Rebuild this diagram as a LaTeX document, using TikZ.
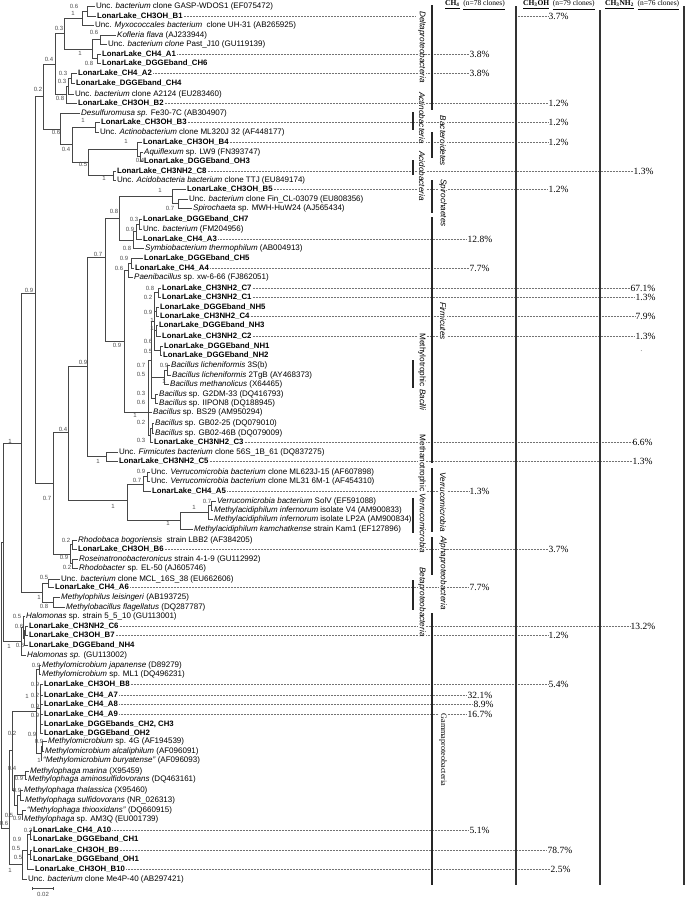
\documentclass[tikz,border=0pt]{standalone}
\usepackage{fontspec}
\setmainfont{Liberation Serif}
\setsansfont{Liberation Sans}
\newcommand\lfont{\fontsize{8}{9}\selectfont\sffamily}
\newcommand\bfont{\fontsize{7.8}{9}\selectfont\sffamily\bfseries}
\tikzset{
 leaf/.style={anchor=west, inner xsep=1pt, inner ysep=0pt, font=\lfont},
 bleaf/.style={leaf, font=\bfont},
 tree/.style={line width=0.75pt, draw=black!72},
 sup/.style={font=\fontsize{6}{6}\selectfont\sffamily, text=black!70, inner sep=0pt},
 pctn/.style={anchor=west, inner sep=0.5pt, font=\fontsize{9.5}{10}\selectfont},
 dotl/.style={draw=black!55, line width=0.4pt, dash pattern=on 0.5pt off 1pt},
 grp/.style={rotate=-90, fill=white, inner xsep=2pt, inner ysep=0.5pt, font=\fontsize{8.2}{9}\selectfont\sffamily},
 gbar/.style={line width=1.2pt, draw=black!85},
 col/.style={line width=1.1pt, draw=black!80},
 hdr/.style={anchor=west, inner sep=0pt, font=\fontsize{7.5}{8}\selectfont},
}
\newcommand\lf[4]{\node[leaf] (#1) at (#2,#3) {#4};}
\newcommand\LL[4]{\node[bleaf] (#1) at (#2,#3) {LonarLake\_#4};}
\newcommand\sv[3]{\node[sup] at (#1,#2) {#3};}
\newcommand\cl[3]{\coordinate (#1) at (#2,#3);}
\newcommand\br[2]{\foreach \c in {#2} {\draw[tree] (#1) |- (\c);}}
\newcommand\pct[4]{\node[pctn] (p#1) at (#2,#3) {#4}; \draw[dotl] (#1.east) -- (#1.east -| p#1.west);}
\begin{document}
\begin{tikzpicture}[x=1pt,y=-1pt]
\useasboundingbox (0,0) rectangle (685,897);
% ---------------- leaves
\lf{L1}{95}{6}{Unc. \textit{bacterium} clone GASP-WDOS1 (EF075472)}
\LL{L2}{96}{16}{CH3OH\_B1}
\lf{L3}{94}{25}{Unc. \textit{Myxococcales bacterium}\ \ clone UH-31 (AB265925)}
\lf{L4}{116}{35}{\textit{Kofleria flava} (AJ233944)}
\lf{L5}{107}{44}{Unc. \textit{bacterium clone} Past\_J10 (GU119139)}
\LL{L6}{101}{54}{CH4\_A1}
\LL{L7}{101}{63}{DGGEband\_CH6}
\LL{L8}{77}{73}{CH4\_A2}
\LL{L9}{75}{83}{DGGEband\_CH4}
\lf{L10}{74}{94}{Unc. \textit{bacterium} clone A2124 (EU283460)}
\LL{L11}{77}{103}{CH3OH\_B2}
\lf{L12}{80}{113}{\textit{Desulfuromusa sp.} Fe30-7C (AB304907)}
\LL{L13}{100}{122}{CH3OH\_B3}
\lf{L14}{99}{132}{Unc. \textit{Actinobacterium} clone ML320J 32 (AF448177)}
\LL{L15}{142}{142}{CH3OH\_B4}
\lf{L16}{143}{152}{\textit{Aquiflexum} sp. LW9 (FN393747)}
\LL{L17}{143}{161}{DGGEband\_OH3}
\LL{L18}{116}{171}{CH3NH2\_C8}
\lf{L19}{116}{180}{Unc. \textit{Acidobacteria bacterium} clone TTJ (EU849174)}
\LL{L20}{186}{189}{CH3OH\_B5}
\lf{L21}{188}{199}{Unc. \textit{bacterium} clone Fin\_CL-03079 (EU808356)}
\lf{L22}{192}{208}{\textit{Spirochaeta} sp. MWH-HuW24 (AJ565434)}
\LL{L23}{142}{219}{DGGEband\_CH7}
\lf{L24}{142}{229}{Unc. \textit{bacterium} (FM204956)}
\LL{L25}{142}{239}{CH4\_A3}
\lf{L26}{144}{248}{\textit{Symbiobacterium thermophilum} (AB004913)}
\LL{L27}{143}{258}{DGGEband\_CH5}
\LL{L28}{134}{268}{CH4\_A4}
\lf{L29}{133}{277}{\textit{Paenibacillus} sp. xw-6-66 (FJ862051)}
\LL{L30}{161}{288}{CH3NH2\_C7}
\LL{L31}{161}{297}{CH3NH2\_C1}
\LL{L32}{159}{307}{DGGEband\_NH5}
\LL{L33}{159}{316}{CH3NH2\_C4}
\LL{L34}{158}{325}{DGGEband\_NH3}
\LL{L35}{161}{336}{CH3NH2\_C2}
\LL{L36}{163}{346}{DGGEband\_NH1}
\LL{L37}{162}{355}{DGGEband\_NH2}
\lf{L38}{170}{365}{\textit{Bacillus licheniformis} 3S(b)}
\lf{L39}{171}{375}{\textit{Bacillus licheniformis} 2TgB (AY468373)}
\lf{L40}{169}{384}{\textit{Bacillus methanolicus} (X64465)}
\lf{L41}{158}{394}{\textit{Bacillus} sp. G2DM-33 (DQ416793)}
\lf{L42}{158}{403}{\textit{Bacillus} sp. IIPON8 (DQ188945)}
\lf{L43}{152}{412}{\textit{Bacillus} sp. BS29 (AM950294)}
\lf{L44}{154}{423}{\textit{Bacillus} sp. GB02-25 (DQ079010)}
\lf{L45}{154}{433}{\textit{Bacillus} sp. GB02-46B (DQ079009)}
\LL{L46}{153}{442}{CH3NH2\_C3}
\lf{L47}{118}{452}{Unc. \textit{Firmicutes bacterium} clone 56S\_1B\_61 (DQ837275)}
\LL{L48}{118}{461}{CH3NH2\_C5}
\lf{L49}{150}{472}{Unc. \textit{Verrucomicrobia bacterium} clone ML623J-15 (AF607898)}
\lf{L50}{150}{481}{Unc. \textit{Verrucomicrobia bacterium} clone ML31 6M-1 (AF454310)}
\LL{L51}{151}{491}{CH4\_A5}
\lf{L52}{216}{501}{\textit{Verrucomicrobia bacterium} SolV (EF591088)}
\lf{L53}{213}{510}{\textit{Methylacidiphilum infernorum} isolate V4 (AM900833)}
\lf{L54}{213}{519}{\textit{Methylacidiphilum infernorum} isolate LP2A (AM900834)}
\lf{L55}{193}{529}{\textit{Methylacidiphilum kamchatkense} strain Kam1 (EF127896)}
\lf{L56}{77}{540}{\textit{Rhodobaca bogoriensis}\ \ strain LBB2 (AF384205)}
\LL{L57}{77}{549}{CH3OH\_B6}
\lf{L58}{78}{559}{\textit{Roseinatronobacteronicus} strain 4-1-9 (GU112992)}
\lf{L59}{78}{568}{\textit{Rhodobacter} sp. EL-50 (AJ605746)}
\lf{L60}{60}{579}{Unc. \textit{bacterium} clone MCL\_16S\_38 (EU662606)}
\LL{L61}{54}{587}{CH4\_A6}
\lf{L62}{60}{597}{\textit{Methylophilus leisingeri} (AB193725)}
\lf{L63}{65}{607}{\textit{Methylobacillus flagellatus} (DQ287787)}
\lf{L64}{25}{616}{\textit{Halomonas} sp. strain 5\_5\_10 (GU113001)}
\LL{L65}{28}{626}{CH3NH2\_C6}
\LL{L66}{28}{635}{CH3OH\_B7}
\LL{L67}{28}{645}{DGGEband\_NH4}
\lf{L68}{26}{655}{\textit{Halomonas sp.} (GU113002)}
\lf{L69}{41}{665}{\textit{Methylomicrobium japanense} (D89279)}
\lf{L70}{41}{674}{\textit{Methylomicrobium} sp. ML1 (DQ496231)}
\LL{L71}{43}{684}{CH3OH\_B8}
\LL{L72}{43}{695}{CH4\_A7}
\LL{L73}{43}{704}{CH4\_A8}
\LL{L74}{43}{714}{CH4\_A9}
\LL{L75}{43}{724}{DGGEbands\_CH2, CH3}
\LL{L76}{43}{733}{DGGEband\_OH2}
\lf{L77}{47}{741}{\textit{Methylomicrobium} sp. 4G (AF194539)}
\lf{L78}{44}{751}{\textit{Methylomicrobium alcaliphilum} (AF096091)}
\lf{L79}{42}{760}{\textit{“Methylomicrobium buryatense”} (AF096093)}
\lf{L80}{29}{771}{\textit{Methylophaga marina} (X95459)}
\lf{L81}{27}{779}{\textit{Methylophaga aminosulfidovorans} (DQ463161)}
\lf{L82}{23}{790}{\textit{Methylophaga thalassica} (X95460)}
\lf{L83}{24}{800}{\textit{Methylophaga sulfidovorans} (NR\_026313)}
\lf{L84}{26}{810}{\textit{“Methylophaga thiooxidans”} (DQ660915)}
\lf{L85}{23}{819}{\textit{Methylophaga} sp. AM3Q (EU001739)}
\LL{L86}{32}{830}{CH4\_A10}
\LL{L87}{32}{839}{DGGEband\_CH1}
\LL{L88}{32}{850}{CH3OH\_B9}
\LL{L89}{32}{859}{DGGEband\_OH1}
\LL{L90}{34}{869}{CH3OH\_B10}
\lf{L91}{27}{879}{Unc. \textit{bacterium} clone Me4P-40 (AB297421)}
% ---------------- internal nodes
\cl{n1}{87}{11} \cl{n2}{82}{18} \cl{n3}{100}{39.5} \cl{n4}{97}{58.5}
\cl{n5}{92}{49} \cl{n6}{64}{33.5} \cl{n7a}{71}{78} \cl{n7}{68}{86}
\cl{n8}{66}{94.5} \cl{n9}{55}{64} \cl{n11}{95}{127} \cl{n12b}{140}{156.5}
\cl{n12}{137}{149} \cl{n13}{113}{175.5} \cl{n14}{88}{162} \cl{n15}{72}{144.5}
\cl{n16}{60}{129} \cl{n17}{43}{96}
\cl{n18}{178}{203.5} \cl{n19}{172}{196} \cl{n20a}{139}{224} \cl{n20b}{136}{231}
\cl{n20c}{133}{240} \cl{n21}{119}{218} \cl{n22a}{131}{263} \cl{n22}{128}{270}
\cl{b1}{158}{292.5} \cl{b2}{156}{311.5} \cl{b3}{156}{330.5} \cl{b4}{160}{350.5}
\cl{b5}{154}{321.5} \cl{b6}{167}{370} \cl{b7}{164}{377} \cl{b8}{155}{398.5}
\cl{b9}{151}{360} \cl{b10}{152}{428} \cl{b11}{150}{435} \cl{B}{148}{412}
\cl{n23}{124}{341} \cl{n24}{105}{257} \cl{n26}{106}{456} \cl{n25}{87}{366}
\cl{n27a}{147}{476.5} \cl{n27b}{143}{484} \cl{n28a}{211}{505.5} \cl{n28b}{208}{512}
\cl{n28}{180}{520} \cl{n29}{127}{500} \cl{n30}{68}{432}
\cl{n31a}{72}{544.5} \cl{n31b}{72}{563.5} \cl{n31}{70}{554} \cl{n32}{53}{483}
\cl{n33}{35}{293} \cl{n35a}{48}{583} \cl{n35b}{53}{602} \cl{n35}{42}{592}
\cl{n34}{21}{443}
\cl{n36a}{25}{630.5} \cl{n36b}{24}{638} \cl{n36c}{23}{627} \cl{n36}{21}{641}
\cl{g1}{39}{669.5} \cl{g2}{40}{708.5} \cl{g3}{42.5}{746} \cl{g4}{41}{753}
\cl{g5}{36}{711} \cl{mph1}{25}{775} \cl{mph2}{20}{795} \cl{mph3}{22}{814.5}
\cl{mph4}{17}{805} \cl{mph5}{14}{790} \cl{g6}{12}{750}
\cl{c1}{30}{834.5} \cl{c2}{30}{854.5} \cl{c3}{27}{850} \cl{c4}{22}{864}
\cl{G}{9}{828} \cl{R1}{3}{542} \cl{R0}{1}{680}
% ---------------- branches
\br{n1}{L1.west,L2.west} \br{n2}{n1,L3.west} \br{n3}{L4.west,L5.west}
\br{n4}{L6.west,L7.west} \br{n5}{n3,n4} \br{n6}{n2,n5}
\br{n7a}{L8.west,L9.west} \br{n7}{n7a,L10.west} \br{n8}{n7,L11.west} \br{n9}{n6,n8}
\br{n11}{L13.west,L14.west} \br{n12b}{L16.west,L17.west} \br{n12}{L15.west,n12b}
\br{n13}{L18.west,L19.west} \br{n14}{n12,n13} \br{n15}{n11,n14} \br{n16}{L12.west,n15}
\br{n17}{n9,n16}
\br{n18}{L21.west,L22.west} \br{n19}{L20.west,n18} \br{n20a}{L23.west,L24.west}
\br{n20b}{n20a,L25.west} \br{n20c}{n20b,L26.west} \br{n21}{n19,n20c}
\br{n22a}{L27.west,L28.west} \br{n22}{n22a,L29.west}
\br{b1}{L30.west,L31.west} \br{b2}{L32.west,L33.west} \br{b3}{L34.west,L35.west}
\br{b4}{L36.west,L37.west} \br{b5}{b1,b2,b3,b4} \br{b6}{L38.west,L39.west}
\br{b7}{b6,L40.west} \br{b8}{L41.west,L42.west} \br{b9}{b5,b7,b8}
\br{b10}{L44.west,L45.west} \br{b11}{b10,L46.west} \br{B}{b9,L43.west,b11}
\br{n23}{n22,B} \br{n24}{n21,n23} \br{n26}{L47.west,L48.west} \br{n25}{n24,n26}
\br{n27a}{L49.west,L50.west} \br{n27b}{n27a,L51.west} \br{n28a}{L52.west,L53.west}
\br{n28b}{n28a,L54.west} \br{n28}{n28b,L55.west} \br{n29}{n27b,n28} \br{n30}{n25,n29}
\br{n31a}{L56.west,L57.west} \br{n31b}{L58.west,L59.west} \br{n31}{n31a,n31b}
\br{n32}{n30,n31} \br{n33}{n17,n32}
\br{n35a}{L60.west,L61.west} \br{n35b}{L62.west,L63.west} \br{n35}{n35a,n35b}
\br{n34}{n33,n35}
\br{n36a}{L65.west,L66.west} \br{n36b}{n36a,L67.west} \br{n36c}{L64.west,n36b}
\br{n36}{n36c,L68.west}
\br{g1}{L69.west,L70.west} \br{g2}{L71.west,L72.west,L73.west,L74.west,L75.west,L76.west}
\br{g3}{L77.west,L78.west} \br{g4}{g3,L79.west} \br{g5}{g1,g2,g4}
\br{mph1}{L80.west,L81.west} \br{mph2}{L82.west,L83.west} \br{mph3}{L84.west,L85.west}
\br{mph4}{mph2,mph3} \br{mph5}{mph1,mph4} \br{g6}{g5,mph5}
\br{c1}{L86.west,L87.west} \br{c2}{L88.west,L89.west} \br{c3}{c1,c2,L90.west}
\br{c4}{c3,L91.west} \br{G}{g6,c4} \br{R1}{n34,n36} \br{R0}{R1,G}
% ---------------- support values
\sv{74}{6}{0.6} \sv{73}{13}{1} \sv{59}{28}{0.3} \sv{94}{32}{0.6} \sv{80}{53}{1}
\sv{89}{63}{0.8} \sv{49}{59}{0.4} \sv{63}{73}{0.3} \sv{62}{81}{0.3} \sv{60}{98}{0.8}
\sv{38}{89}{0.2} \sv{83}{120}{1} \sv{56}{132}{0.6} \sv{126}{141}{1} \sv{66}{149}{0.4}
\sv{140}{160}{0.4} \sv{83}{164}{0.5} \sv{104}{178}{1} \sv{160}{190}{1} \sv{170}{208}{0.7}
\sv{114}{211}{0.8} \sv{134}{219}{0.3} \sv{130}{229}{0.9} \sv{127}{248}{0.8}
\sv{124}{258}{0.9} \sv{119}{268}{0.6} \sv{98}{254}{0.7} \sv{29}{290}{0.9}
\sv{150}{288}{0.8} \sv{148}{297}{0.2} \sv{148}{312}{0.9} \sv{152}{320}{1} \sv{152}{328}{1}
\sv{148}{341}{0.6} \sv{148}{351}{0.5} \sv{164}{365}{0.9} \sv{141}{365}{0.7}
\sv{141}{374}{0.5} \sv{164}{381}{1} \sv{141}{393}{0.3} \sv{141}{402}{0.6} \sv{135}{415}{1}
\sv{141}{422}{0.2} \sv{141}{440}{0.3} \sv{117}{345}{0.9} \sv{83}{362}{0.9} \sv{63}{429}{0.4}
\sv{98}{461}{1} \sv{10}{441}{1}
\sv{141}{471}{0.9} \sv{137}{480}{0.7} \sv{207}{501}{0.7} \sv{194}{507}{1} \sv{168}{523}{1}
\sv{113}{506}{1} \sv{47}{498}{0.7}
\sv{66}{540}{0.2} \sv{64}{557}{0.9} \sv{67}{567}{0.2}
\sv{44}{577}{0.5} \sv{39}{597}{1} \sv{44}{606}{0.8}
\sv{17}{616}{0.5} \sv{19}{626}{0.6} \sv{20}{645}{0.6} \sv{9}{646}{1}
\sv{36}{665}{0.9} \sv{35}{684}{0.9} \sv{35}{695}{0.2} \sv{35}{706}{0.9} \sv{35}{715}{0.9}
\sv{32}{734}{0.9} \sv{27}{696}{1} \sv{12}{733}{0.2} \sv{39}{741}{0.9} \sv{39}{760}{1}
\sv{12}{768}{0.4} \sv{19}{778}{0.9} \sv{17}{790}{0.9} \sv{9}{815}{0.5} \sv{17}{818}{0.9}
\sv{4}{823}{0.6} \sv{28}{830}{0.2} \sv{17}{839}{0.9} \sv{16}{848}{0.5} \sv{18}{857}{0.5}
\sv{10}{870}{1}
% ---------------- scale bar
\coordinate (sb1) at (32,888); \coordinate (sb2) at (53,888);
\draw[tree,line width=0.6pt] (sb1) -- (sb2);
\draw[tree,line width=0.6pt] ([yshift=-1.5pt]sb1) -- ([yshift=1.5pt]sb1);
\draw[tree,line width=0.6pt] ([yshift=-1.5pt]sb2) -- ([yshift=1.5pt]sb2);
\node[sup] (sbl) at (43,894) {0.02};
% ---------------- percentages and dotted leaders
\node[pctn] (pL2) at (548,16) {3.7\%};
\draw[dotl] (L2.east) -- (415,16); \draw[dotl] (516,16) -- (pL2.west);
\pct{L6}{469}{54}{3.8\%}
\pct{L8}{469}{73}{3.8\%}
\pct{L11}{548}{103}{1.2\%}
\pct{L13}{548}{122}{1.2\%}
\pct{L15}{548}{142}{1.2\%}
\pct{L18}{633}{171}{1.3\%}
\pct{L20}{548}{189}{1.2\%}
\pct{L25}{467}{239}{12.8\%}
\pct{L28}{469}{268}{7.7\%}
\pct{L30}{630}{288}{67.1\%}
\pct{L31}{635}{297}{1.3\%}
\pct{L33}{635}{316}{7.9\%}
\pct{L35}{635}{336}{1.3\%}
\pct{L46}{632}{442}{6.6\%}
\pct{L48}{632}{461}{1.3\%}
\pct{L51}{469}{491}{1.3\%}
\pct{L57}{548}{549}{3.7\%}
\pct{L61}{469}{587}{7.7\%}
\pct{L65}{630}{626}{13.2\%}
\pct{L66}{548}{635}{1.2\%}
\pct{L71}{548}{684}{5.4\%}
\pct{L72}{467}{695}{32.1\%}
\pct{L73}{473}{704}{8.9\%}
\pct{L74}{467}{714}{16.7\%}
\pct{L86}{469}{830}{5.1\%}
\pct{L88}{547}{850}{78.7\%}
\pct{L90}{550}{869}{2.5\%}
\node[pctn,font=\fontsize{6}{6}\selectfont] (dotmark) at (640,351) {.};
% ---------------- group labels
\node[grp] (gDelta) at (422,47) {\textit{Deltaproteobacteria}};
\node[grp] (gActino) at (422,118) {\textit{Actinobacteria}};
\node[grp] (gAcido) at (422,176) {\textit{Acidobacteria}};
\node[grp] (gBact) at (443,141) {\textit{Bacteroidetes}};
\node[grp] (gSpiro) at (443,203) {\textit{Spirochaetes}};
\node[grp] (gFirm) at (443,321) {\textit{Firmicutes}};
\node[grp] (gMB) at (422,372) {Methylotrophic \textit{Bacilli}};
\node[grp] (gMV) at (422,494) {Methanotrophic \textit{Verrucomicrobia}};
\node[grp] (gVerr) at (443,502) {\textit{Verrucomicrobia}};
\node[grp] (gAlpha) at (443,573) {\textit{Alphaproteobacteria}};
\node[grp] (gBeta) at (422,602) {\textit{Betaproteobacteria}};
\node[grp,font=\fontsize{8.2}{9}\selectfont\rmfamily] (gGamma) at (443,750) {Gammaproteobacteria};
% ---------------- group bars
\draw[gbar] (432,5) -- (432,110);
\draw[gbar] (413,112) -- (413,130);
\draw[gbar] (432,132) -- (432,158);
\draw[gbar] (413,160) -- (413,175);
\draw[gbar] (432,180) -- (432,213);
\draw[gbar] (432,217) -- (432,463);
\draw[gbar] (413,360) -- (413,388);
\draw[gbar] (413,498) -- (413,533);
\draw[gbar] (432,468) -- (432,532);
\draw[gbar] (432,537) -- (432,575);
\draw[gbar] (413,580) -- (413,610);
\draw[gbar] (432,613) -- (432,885);
% ---------------- columns and headers
\draw[col] (516,6) -- (516,885);
\draw[col] (600,10) -- (600,885);
\draw[col] (684,6) -- (684,885);
\node[hdr] (h1) at (445,5) {\underline{\textbf{CH\textsubscript{4}}}\ \ \underline{(n=78 clones)}};
\node[hdr] (h2) at (523,5) {\underline{\textbf{CH\textsubscript{3}OH}}\ \ \underline{(n=79 clones)}};
\node[hdr] (h3) at (605,5) {\underline{\textbf{CH\textsubscript{3}NH\textsubscript{2}}}\ \ \underline{(n=76 clones)}};
\end{tikzpicture}
\end{document}
